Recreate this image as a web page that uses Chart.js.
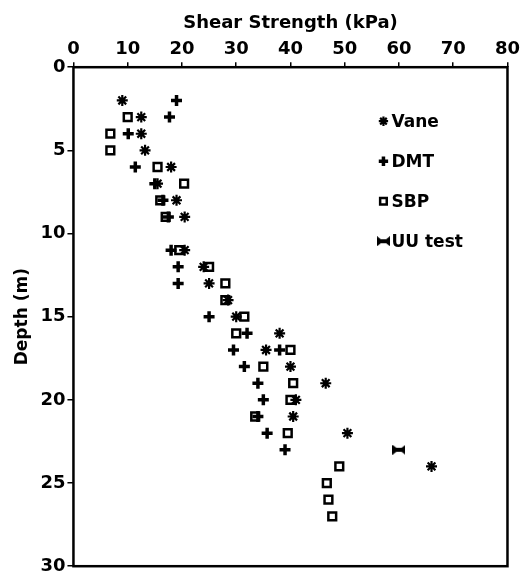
<!DOCTYPE html>
<html>
<head>
<meta charset="utf-8">
<script src="https://cdn.jsdelivr.net/npm/chart.js@4.4.0/dist/chart.umd.min.js"></script>
<style>
  html, body { margin: 0; padding: 0; background: #fff; }
  #wrap { width: 522px; height: 579px; }
</style>
</head>
<body>
<div id="wrap"><canvas id="chart"></canvas></div>
<script>
// depth (m) and shear strength (kPa)
const vaneDepth = [2, 3, 4, 5, 6, 7, 8, 9, 11, 12, 13, 14, 15, 16, 17, 18, 19, 20, 21, 22, 24];
const vaneSu    = [9, 12.5, 12.5, 13.2, 18, 15.5, 19, 20.5, 20.5, 24, 25, 28.5, 30, 38, 35.5, 40, 46.5, 41, 40.5, 50.5, 66];

const dmtDepth = [2, 3, 4, 6, 7, 8, 9, 11, 12, 13, 15, 16, 17, 17, 18, 19, 20, 21, 22, 23];
const dmtSu    = [19, 17.7, 10.1, 11.4, 15, 16.5, 17.5, 18, 19.3, 19.3, 25, 32, 29.5, 38, 31.5, 34, 35, 34, 35.7, 39];

const sbpDepth = [3, 4, 5, 6, 7, 8, 9, 11, 12, 13, 14, 15, 16, 17, 18, 19, 20, 21, 22, 24, 25, 26, 27];
const sbpSu    = [10, 6.8, 6.8, 15.5, 20.4, 16, 17, 19.5, 25, 28, 28, 31.5, 30, 40, 35, 40.5, 40, 33.5, 39.5, 49, 46.7, 47, 47.7];

const uuDepth = [23];
const uuSu    = [60];

const xTicks = [0, 10, 20, 30, 40, 50, 60, 70, 80];
const yTicks = [0, 5, 10, 15, 20, 25, 30];

function pts(xs, ys) {
    return xs.map((x, i) => ({ x: x, y: ys[i] }));
}

// bow-tie marker for the UU test
const bowtie = document.createElement('canvas');
bowtie.width = 13;
bowtie.height = 10;
(function () {
    const c = bowtie.getContext('2d');
    c.fillStyle = '#000';
    c.beginPath();
    c.moveTo(0, 0); c.lineTo(6.5, 5); c.lineTo(0, 10); c.closePath();
    c.moveTo(13, 0); c.lineTo(6.5, 5); c.lineTo(13, 10); c.closePath();
    c.fill();
    c.fillRect(4, 3, 5, 4);
})();

const font = "'DejaVu Sans', sans-serif";

const frame = {
    id: 'frame',
    afterDraw(chart) {
        const a = chart.chartArea;
        const c = chart.ctx;
        c.save();
        c.strokeStyle = '#000';
        c.lineWidth = 2.5;
        c.strokeRect(a.left, a.top, a.right - a.left, a.bottom - a.top);

        // legend inside the plot
        const items = chart.data.datasets;
        items.forEach((ds, i) => {
            const x = a.left + 310;
            const y = a.top + 54 + i * 40;
            c.fillStyle = ds.backgroundColor;
            c.strokeStyle = ds.borderColor;
            c.lineWidth = ds.borderWidth;
            Chart.helpers.drawPoint(c, {
                pointStyle: ds.pointStyle,
                radius: ds.pointRadius * 0.85,
                borderWidth: ds.borderWidth
            }, x, y);
            c.font = 'bold 17px ' + font;
            c.textBaseline = 'middle';
            c.fillStyle = '#000';
            c.fillText(ds.label, x + 8, y + 1);
        });
        c.restore();
    }
};

new Chart(document.getElementById('chart'), {
    type: 'scatter',
    data: {
        datasets: [
            { label: 'Vane', data: pts(vaneSu, vaneDepth), pointStyle: 'star', pointRadius: 5.5, borderWidth: 2.2, borderColor: '#000', backgroundColor: '#000' },
            { label: 'DMT', data: pts(dmtSu, dmtDepth), pointStyle: 'cross', pointRadius: 5.5, borderWidth: 3.5, borderColor: '#000', backgroundColor: '#000' },
            { label: 'SBP', data: pts(sbpSu, sbpDepth), pointStyle: 'rect', pointRadius: 5.5, borderWidth: 2.5, borderColor: '#000', backgroundColor: '#fff' },
            { label: 'UU test', data: pts(uuSu, uuDepth), pointStyle: bowtie, pointRadius: 6, borderWidth: 2, borderColor: '#000', backgroundColor: '#000' }
        ]
    },
    options: {
        responsive: true,
        maintainAspectRatio: false,
        animation: false,
        layout: {
            padding: { top: 13, right: 0, bottom: 6, left: 12 }
        },
        scales: {
            x: {
                type: 'linear',
                position: 'top',
                min: 0,
                max: 80,
                afterBuildTicks: axis => { axis.ticks = xTicks.map(v => ({ value: v })); },
                grid: {
                    display: true,
                    drawOnChartArea: false,
                    drawTicks: true,
                    tickLength: 5,
                    color: '#000',
                    lineWidth: 1.5
                },
                border: { display: false },
                ticks: {
                    color: '#000',
                    padding: 2,
                    maxRotation: 0,
                    font: { family: font, size: 18, weight: 'bold' }
                },
                title: {
                    display: true,
                    text: 'Shear Strength (kPa)',
                    color: '#000',
                    padding: { top: 0, bottom: 2 },
                    font: { family: font, size: 18, weight: 'bold' }
                }
            },
            y: {
                type: 'linear',
                reverse: true,
                min: 0,
                max: 30,
                afterBuildTicks: axis => { axis.ticks = yTicks.map(v => ({ value: v })); },
                grid: {
                    display: true,
                    drawOnChartArea: false,
                    drawTicks: true,
                    tickLength: 6,
                    color: '#000',
                    lineWidth: 1.5
                },
                border: { display: false },
                ticks: {
                    color: '#000',
                    padding: 2,
                    font: { family: font, size: 18, weight: 'bold' }
                },
                title: {
                    display: true,
                    text: 'Depth (m)',
                    color: '#000',
                    padding: { top: 0, bottom: 6 },
                    font: { family: font, size: 17, weight: 'bold' }
                }
            }
        },
        plugins: {
            legend: { display: false },
            tooltip: { enabled: false }
        }
    },
    plugins: [frame]
});
</script>
</body>
</html>
